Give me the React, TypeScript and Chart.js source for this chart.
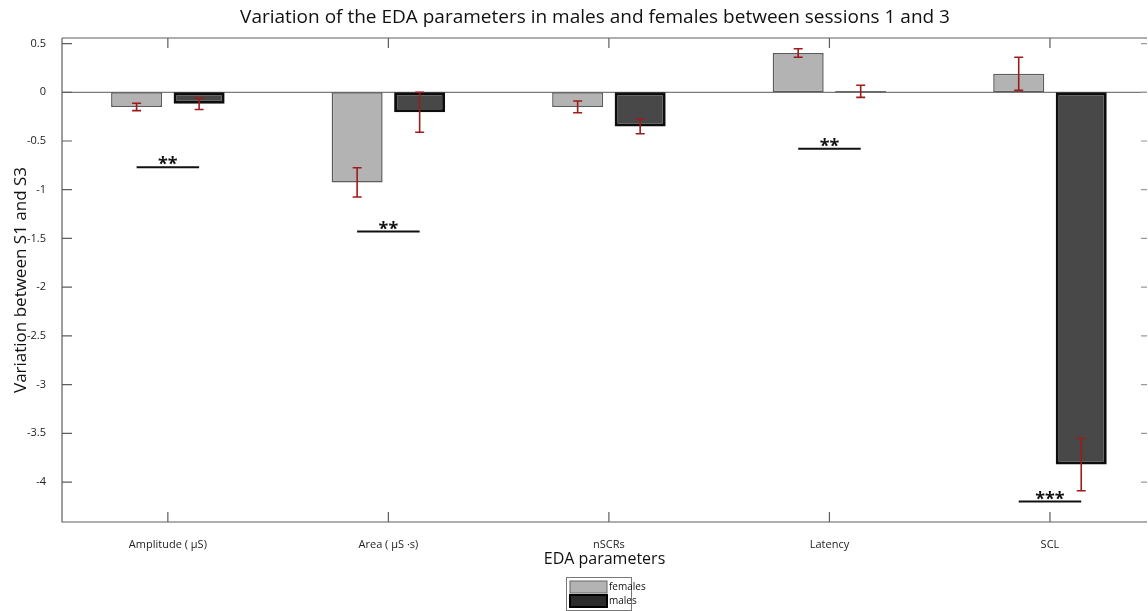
import React, { useEffect, useRef } from "react";
import { Chart, registerables } from "chart.js";

Chart.register(...registerables);

const titleText = "Variation of the EDA parameters in males and females between sessions 1 and 3";
const xTitle = "EDA parameters";
const yTitle = "Variation between S1 and S3";

const categories = ["Amplitude ( \u03BCS)", "Area ( \u03BCS \u00B7s)", "nSCRs", "Latency", "SCL"];
const seriesLabels = ["females", "males"];

const femalesMean = [-0.15, -0.925, -0.15, 0.403, 0.19];
const femalesErr = [0.038, 0.15, 0.06, 0.043, 0.17];
const malesMean = [-0.118, -0.205, -0.35, 0.01, -3.82];
const malesErr = [0.058, 0.205, 0.075, 0.062, 0.27];

const yTickValues = [0.5, 0, -0.5, -1, -1.5, -2, -2.5, -3, -3.5, -4];

const sigCategory = [1, 2, 4, 5];
const sigLabel = ["**", "**", "**", "***"];
const sigValue = [-0.77, -1.43, -0.58, -4.2];

const FONT = "'Open Sans', 'Noto Sans', sans-serif";

const extrasPlugin = {
  id: "extras",
  beforeDatasetsDraw(chart: any) {
    const { ctx, chartArea, scales } = chart;
    const y0 = scales.y.getPixelForValue(0);
    ctx.save();
    ctx.strokeStyle = "#7a7a7a";
    ctx.lineWidth = 1.2;
    ctx.beginPath();
    ctx.moveTo(chartArea.left, y0);
    ctx.lineTo(chartArea.right, y0);
    ctx.stroke();
    ctx.restore();
  },
  afterDatasetsDraw(chart: any) {
    const { ctx, chartArea, scales } = chart;
    const ys = scales.y;
    const xs = scales.x;
    ctx.save();
    // error bars
    const errs = [femalesErr, malesErr];
    const means = [femalesMean, malesMean];
    for (let d = 0; d < 2; d++) {
      const meta = chart.getDatasetMeta(d);
      meta.data.forEach((bar: any, i: number) => {
        const x = bar.x;
        const top = ys.getPixelForValue(means[d][i] + errs[d][i]);
        const bot = ys.getPixelForValue(means[d][i] - errs[d][i]);
        ctx.strokeStyle = "#9e1b1b";
        ctx.lineWidth = 1.6;
        ctx.beginPath();
        ctx.moveTo(x, top);
        ctx.lineTo(x, bot);
        ctx.moveTo(x - 4.5, top);
        ctx.lineTo(x + 4.5, top);
        ctx.moveTo(x - 4.5, bot);
        ctx.lineTo(x + 4.5, bot);
        ctx.stroke();
      });
    }
    // significance
    const mf = chart.getDatasetMeta(0);
    const mm = chart.getDatasetMeta(1);
    sigCategory.forEach((c, k) => {
      const x1 = mf.data[c - 1].x;
      const x2 = mm.data[c - 1].x;
      const yy = ys.getPixelForValue(sigValue[k]);
      ctx.strokeStyle = "#111";
      ctx.lineWidth = 2;
      ctx.beginPath();
      ctx.moveTo(x1, yy);
      ctx.lineTo(x2, yy);
      ctx.stroke();
      ctx.fillStyle = "#111";
      ctx.font = `bold 18px ${FONT}`;
      ctx.textAlign = "center";
      ctx.textBaseline = "middle";
      ctx.fillText(sigLabel[k], (x1 + x2) / 2, yy - 2);
    });
    // axes box and ticks
    ctx.strokeStyle = "#5e5e5e";
    ctx.lineWidth = 1.2;
    ctx.beginPath();
    ctx.moveTo(chartArea.left, chartArea.top);
    ctx.lineTo(chartArea.right, chartArea.top);
    ctx.moveTo(chartArea.left, chartArea.top);
    ctx.lineTo(chartArea.left, chartArea.bottom);
    ctx.lineTo(chartArea.right, chartArea.bottom);
    yTickValues.forEach((v) => {
      const py = ys.getPixelForValue(v);
      ctx.moveTo(chartArea.left, py);
      ctx.lineTo(chartArea.left + 10, py);
    });
    categories.forEach((_, i) => {
      const px = xs.getPixelForValue(i + 1);
      ctx.moveTo(px, chartArea.bottom);
      ctx.lineTo(px, chartArea.bottom - 10);
      ctx.moveTo(px, chartArea.top);
      ctx.lineTo(px, chartArea.top + 10);
    });
    ctx.stroke();
    ctx.strokeStyle = "#9a9a9a";
    ctx.beginPath();
    yTickValues.forEach((v) => {
      const py = ys.getPixelForValue(v);
      ctx.moveTo(chartArea.right, py);
      ctx.lineTo(chartArea.right - 6, py);
    });
    ctx.stroke();
    ctx.restore();
  },
  afterDraw(chart: any) {
    const { ctx } = chart;
    ctx.save();
    // title
    ctx.fillStyle = "#111";
    ctx.font = `19px ${FONT}`;
    ctx.textAlign = "center";
    ctx.textBaseline = "middle";
    ctx.fillText(titleText, 595, 18);
    // legend
    const lx = 566, ly = 577, lw = 65, lh = 33;
    ctx.fillStyle = "#fff";
    ctx.fillRect(lx, ly, lw, lh);
    ctx.strokeStyle = "#777";
    ctx.lineWidth = 1;
    ctx.strokeRect(lx + 0.5, ly + 0.5, lw, lh);
    const swFill = ["#b3b3b3", "#2a2a2a"];
    const swBorder = ["#666", "#000"];
    seriesLabels.forEach((lab, i) => {
      const sy = ly + 4 + i * 14;
      ctx.fillStyle = swFill[i];
      ctx.fillRect(lx + 4, sy, 37, 12);
      ctx.strokeStyle = swBorder[i];
      ctx.lineWidth = i === 0 ? 1 : 2;
      ctx.strokeRect(lx + 4, sy, 37, 12);
      ctx.fillStyle = "#111";
      ctx.font = `10px ${FONT}`;
      ctx.textAlign = "left";
      ctx.textBaseline = "middle";
      ctx.fillText(lab, lx + 43, sy + 6);
    });
    ctx.restore();
  },
};

export default function App() {
  const ref = useRef<HTMLCanvasElement | null>(null);
  useEffect(() => {
    if (!ref.current) return;
    const chart = new Chart(ref.current, {
      type: "bar",
      data: {
        datasets: [
          {
            label: seriesLabels[0],
            data: femalesMean.map((v, i) => ({ x: i + 1, y: v })),
            backgroundColor: "#b3b3b3",
            borderColor: "#5c5c5c",
            borderWidth: 1.5,
            borderSkipped: false,
          },
          {
            label: seriesLabels[1],
            data: malesMean.map((v, i) => ({ x: i + 1, y: v })),
            backgroundColor: "#484848",
            borderColor: "#0d0d0d",
            borderWidth: 3,
            borderSkipped: false,
          },
        ],
      } as any,
      options: {
        animation: false,
        responsive: false,
        maintainAspectRatio: false,
        layout: { padding: { top: 38, right: 1, left: 0, bottom: 0 } },
        datasets: { bar: { categoryPercentage: 0.567, barPercentage: 0.816 } },
        plugins: { legend: { display: false }, tooltip: { enabled: false }, title: { display: false } },
        scales: {
          x: {
            type: "linear",
            min: 0.52,
            max: 5.44,
            offset: false,
            grid: { display: false },
            border: { display: false },
            afterBuildTicks: (s: any) => {
              s.ticks = categories.map((_, i) => ({ value: i + 1 }));
            },
            afterFit: (s: any) => {
              s.height = 89;
            },
            ticks: {
              autoSkip: false,
              maxRotation: 0,
              padding: 8,
              color: "#222",
              font: { family: FONT, size: 11 },
              callback: (v: any) => categories[Math.round(v) - 1],
            },
            title: {
              display: true,
              text: xTitle,
              color: "#111",
              font: { family: FONT, size: 16 },
              padding: { top: 0, bottom: 42 },
            },
          },
          y: {
            type: "linear",
            min: -4.41,
            max: 0.557,
            grid: { display: false },
            border: { display: false },
            afterBuildTicks: (s: any) => {
              s.ticks = yTickValues.map((v) => ({ value: v }));
            },
            afterFit: (s: any) => {
              s.width = 62;
            },
            ticks: {
              padding: 8,
              color: "#222",
              font: { family: FONT, size: 11 },
              callback: (v: any) => String(v),
            },
            title: {
              display: true,
              text: yTitle,
              color: "#111",
              font: { family: FONT, size: 17 },
              padding: { top: 11, bottom: 0 },
            },
          },
        },
      } as any,
      plugins: [extrasPlugin],
    });
    return () => chart.destroy();
  }, []);
  return (
    <div style={{ position: "absolute", left: 0, top: 0, width: 1148, height: 611, background: "#fff" }}>
      <canvas ref={ref} width={1148} height={611} />
    </div>
  );
}
